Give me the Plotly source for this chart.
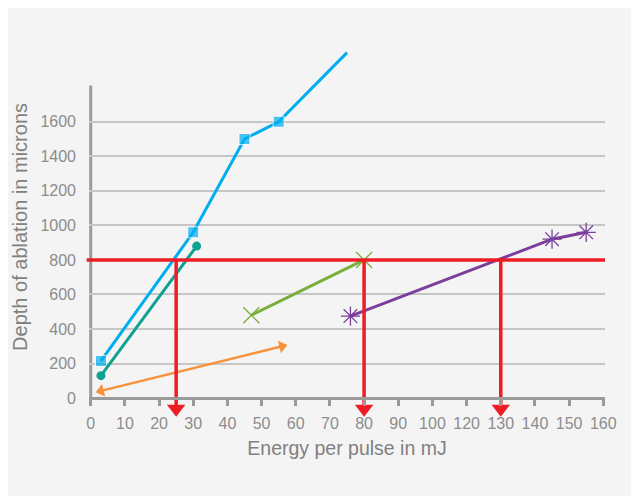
import plotly.graph_objects as go

# ---- data ----
x_tick_labels = ["0", "10", "20", "30", "40", "50", "60", "70", "80", "90",
                 "100", "120", "130", "140", "150", "160"]
y_ticks = [0, 200, 400, 600, 800, 1000, 1200, 1400, 1600]

blue_energy = [3, 30, 45, 55, 75]
blue_depth = [215, 960, 1500, 1600, 2000]

teal_energy = [3, 31]
teal_depth = [130, 880]

orange_energy = [3, 56]
orange_depth = [42, 300]

green_energy = [47, 80]
green_depth = [480, 800]

purple_energy = [76, 145, 155]
purple_depth = [475, 920, 960]

target_depth = 800
target_energies = [25, 80, 130]

# ---- axis mapping: the drawn axis skips the 110 label ----
def to_axis(e):
    return e if e <= 100 else e - 10

tick_vals = [to_axis(int(t)) for t in x_tick_labels]

BLUE = "#00AEEF"
TEAL = "#0FA191"
ORANGE = "#F7923A"
GREEN = "#7AAE3C"
PURPLE = "#7B3F9B"
RED = "#EE1C25"
AXIS = "#9a9a9a"
TXT = "#8c8c8c"
TITLE = "#808080"

Y_MIN, Y_MAX = -115, 2050

fig = go.Figure()

# red target line
fig.add_shape(type="line", xref="paper", yref="y", x0=-0.0045, x1=1.0,
              y0=target_depth, y1=target_depth, line=dict(color=RED, width=3.5), layer="above")

fig.add_trace(go.Scatter(x=[to_axis(e) for e in blue_energy], y=blue_depth, mode="lines+markers",
                         line=dict(color=BLUE, width=3),
                         marker=dict(symbol="square", size=[11, 11, 11, 11, 0], color=BLUE),
                         cliponaxis=False, showlegend=False))
fig.add_trace(go.Scatter(x=[to_axis(e) for e in teal_energy], y=teal_depth, mode="lines+markers",
                         line=dict(color=TEAL, width=3),
                         marker=dict(symbol="circle", size=9, color=TEAL),
                         cliponaxis=False, showlegend=False))
fig.add_trace(go.Scatter(x=[to_axis(e) for e in orange_energy], y=orange_depth, mode="lines+markers",
                         line=dict(color=ORANGE, width=2.5),
                         marker=dict(symbol="triangle-up", size=11, color=ORANGE, angle=[256, 76]),
                         cliponaxis=False, showlegend=False))
fig.add_trace(go.Scatter(x=[to_axis(e) for e in green_energy], y=green_depth, mode="lines+markers",
                         line=dict(color=GREEN, width=3),
                         marker=dict(symbol="x-thin", size=16, line=dict(color=GREEN, width=1.3)),
                         cliponaxis=False, showlegend=False))
fig.add_trace(go.Scatter(x=[to_axis(e) for e in purple_energy], y=purple_depth, mode="lines+markers",
                         line=dict(color=PURPLE, width=3),
                         marker=dict(symbol="asterisk-open", size=16, line=dict(color=PURPLE, width=1.3)),
                         cliponaxis=False, showlegend=False))

# vertical red arrows down to the energy axis
head_y = -62
for e in target_energies:
    xa = to_axis(e)
    fig.add_trace(go.Scatter(x=[xa, xa], y=[target_depth, head_y], mode="lines",
                             line=dict(color=RED, width=3.5), cliponaxis=False,
                             showlegend=False, hoverinfo="skip"))
    fig.add_trace(go.Scatter(x=[xa], y=[head_y], mode="markers",
                             marker=dict(symbol="triangle-down", size=16, color=RED),
                             cliponaxis=False, showlegend=False, hoverinfo="skip"))

# y axis line (stops below the top of the plot)
fig.add_shape(type="line", xref="x", yref="y", x0=0, x1=0, y0=0, y1=1810,
              line=dict(color=AXIS, width=3), layer="below")

# red circle around the target label
fig.add_shape(type="circle", xref="x", yref="y", xsizemode="pixel", ysizemode="pixel",
              xanchor=0, yanchor=target_depth, x0=-47, x1=-4, y0=-21.5, y1=21.5,
              line=dict(color=RED, width=1.5))

# y-axis title placed as an annotation for exact positioning
fig.add_annotation(text="Depth of ablation in microns", textangle=-90,
                   xref="paper", yref="paper", x=0, y=0.511, xanchor="center", yanchor="middle",
                   xshift=-69, showarrow=False, font=dict(size=20, color=TITLE))

fig.update_layout(
    width=639, height=496,
    margin=dict(l=81, r=42, t=36, b=86),
    paper_bgcolor="#f4f4f4", plot_bgcolor="#f4f4f4",
    font=dict(family="Liberation Sans, Arial, sans-serif", color=TXT, size=16),
    xaxis=dict(range=[-0.5, 150.5], tickvals=tick_vals, ticktext=x_tick_labels,
               anchor="free", position=(0 - Y_MIN) / (Y_MAX - Y_MIN), automargin=False,
               showgrid=False, zeroline=False, showline=True, linecolor=AXIS, linewidth=3,
               ticks="outside", ticklen=6, tickwidth=3, tickcolor=AXIS,
               ticklabelstandoff=4,
               tickfont=dict(size=16, color=TXT),
               title=dict(text="Energy per pulse in mJ", font=dict(size=19.5, color=TITLE),
                          standoff=10)),
    yaxis=dict(range=[Y_MIN, Y_MAX], tickvals=y_ticks, showgrid=True, gridcolor="#c6c6c6",
               gridwidth=1.5, zeroline=False, showline=False, ticks="", automargin=False,
               ticklabelstandoff=12, tickfont=dict(size=16, color=TXT)),
)

fig.write_html("out.html")
